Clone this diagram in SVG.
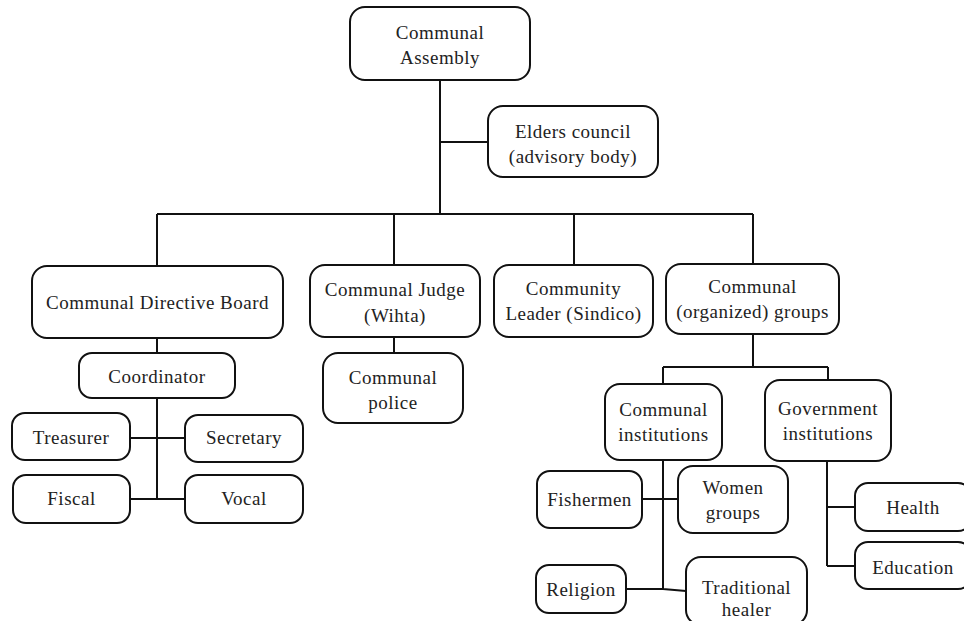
<svg xmlns="http://www.w3.org/2000/svg" width="964" height="621" viewBox="0 0 964 621">
<style>
rect{fill:#fff;stroke:#111;stroke-width:2}
text{font-family:"Liberation Serif","Times New Roman",serif;font-size:19px;fill:#222;text-anchor:middle;letter-spacing:0.5px}
#connectors path{fill:none;stroke:#111;stroke-width:2}
</style>
<rect x="0" y="0" width="964" height="621" style="fill:#fff;stroke:none"/>
<g id="connectors">
<path d="M440 80V214"/>
<path d="M440 142H488"/>
<path d="M157 214H753"/>
<path d="M157 214V266M394 214V265M574 214V265M753 214V264"/>
<path d="M157 338V353M157 398V499"/>
<path d="M130 438H185M130 499H185"/>
<path d="M394 337V353"/>
<path d="M753 334V367M663 367H828M663 367V384M828 367V380"/>
<path d="M663 460V589M642 499H678M626 589H663L686 591"/>
<path d="M827 461V566M827 507H855M827 566H855"/>
</g>
<g id="assembly"><rect x="350" y="7" width="180" height="73" rx="15"/><text x="440" y="39">Communal</text><text x="440" y="64">Assembly</text></g>
<g id="elders"><rect x="488" y="106" width="170" height="71" rx="15"/><text x="573" y="138">Elders council</text><text x="573" y="163">(advisory body)</text></g>
<g id="board"><rect x="32" y="266" width="251" height="72" rx="15"/><text x="157.5" y="309">Communal Directive Board</text></g>
<g id="judge"><rect x="310" y="265" width="170" height="72" rx="15"/><text x="395" y="296">Communal Judge</text><text x="395" y="322">(Wihta)</text></g>
<g id="leader"><rect x="494" y="265" width="159" height="72" rx="15"/><text x="573.5" y="295">Community</text><text x="573.5" y="320">Leader (Sindico)</text></g>
<g id="groups"><rect x="666" y="264" width="173" height="70" rx="15"/><text x="752.5" y="293">Communal</text><text x="752.5" y="318">(organized) groups</text></g>
<g id="police"><rect x="323" y="353" width="140" height="70" rx="15"/><text x="393" y="384">Communal</text><text x="393" y="409">police</text></g>
<g id="coordinator"><rect x="79" y="353" width="156" height="45" rx="13"/><text x="157" y="383">Coordinator</text></g>
<g id="treasurer"><rect x="12" y="413" width="118" height="47" rx="13"/><text x="71" y="444">Treasurer</text></g>
<g id="secretary"><rect x="185" y="415" width="118" height="47" rx="13"/><text x="244" y="444">Secretary</text></g>
<g id="fiscal"><rect x="13" y="475" width="117" height="48" rx="13"/><text x="71.5" y="505">Fiscal</text></g>
<g id="vocal"><rect x="185" y="475" width="118" height="48" rx="13"/><text x="244" y="505">Vocal</text></g>
<g id="communal-institutions"><rect x="605" y="384" width="117" height="76" rx="15"/><text x="663.5" y="416">Communal</text><text x="663.5" y="441">institutions</text></g>
<g id="government-institutions"><rect x="765" y="380" width="126" height="81" rx="15"/><text x="828" y="415">Government</text><text x="828" y="440">institutions</text></g>
<g id="fishermen"><rect x="537" y="471" width="105" height="57" rx="13"/><text x="589.5" y="506">Fishermen</text></g>
<g id="women"><rect x="678" y="466" width="110" height="67" rx="15"/><text x="733" y="494">Women</text><text x="733" y="519">groups</text></g>
<g id="religion"><rect x="536" y="565" width="90" height="48" rx="13"/><text x="581" y="596">Religion</text></g>
<g id="healer"><rect x="686" y="557" width="121" height="68" rx="15"/><text x="746.5" y="594">Traditional</text><text x="746.5" y="616">healer</text></g>
<g id="health"><rect x="855" y="483" width="116" height="48" rx="13"/><text x="913" y="514">Health</text></g>
<g id="education"><rect x="855" y="542" width="116" height="47" rx="13"/><text x="913" y="574">Education</text></g>
</svg>
